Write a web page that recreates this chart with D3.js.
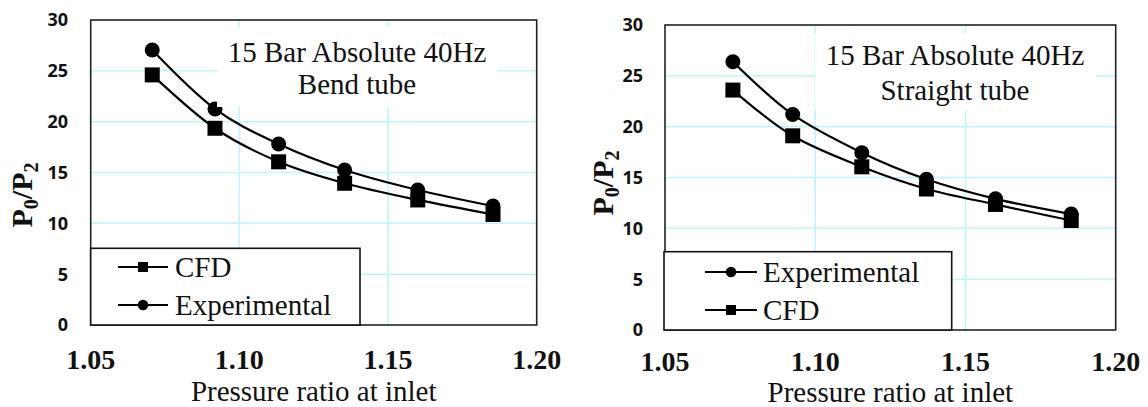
<!DOCTYPE html>
<html><head><meta charset="utf-8">
<script src="https://cdn.jsdelivr.net/npm/d3@7"></script>
<style>html,body{margin:0;padding:0;background:#fff;}</style>
</head><body>
<svg id="c" width="1148" height="407"></svg>
<script>
// ---- data ----
const xTicks = [1.05, 1.10, 1.15, 1.20];
const yTicks = [0, 5, 10, 15, 20, 25, 30];
const bendX = [1.0707, 1.0918, 1.1132, 1.1354, 1.1600, 1.1853];
const bendExp = [27.05, 21.25, 17.8, 15.25, 13.28, 11.7];
const bendCFD = [24.6, 19.35, 16.05, 13.94, 12.3, 10.87];
const straightX = [1.0726, 1.0925, 1.1155, 1.1370, 1.1600, 1.1852];
const straightExp = [26.39, 21.2, 17.44, 14.82, 12.9, 11.4];
const straightCFD = [23.6, 19.1, 16.05, 13.87, 12.35, 10.77];
const annBend = ["15 Bar Absolute 40Hz", "Bend tube"];
const annStraight = ["15 Bar Absolute 40Hz", "Straight tube"];
const xTitle = "Pressure ratio at inlet";

const svg = d3.select("#c");
const serif = "'Liberation Serif','Times New Roman',serif";
const sans = "'Open Sans',Lato,sans-serif";
const gridCol = "#bdf6f6";

const panels = [
  {x0: 90.7, x1: 536.7, y0: 20, y1: 325, xs: bendX, exp: bendExp, cfd: bendCFD, ann: annBend,
   annRect: [217, 27, 498, 107], annCx: 357, annY: [62, 94],
   tickRight: 68, tickBase: 369, titleBase: 401, yTitleX: 32, yTitleY: 195,
   leg: [90.7, 248.3, 360, 325], legLine: [118, 168], legTextX: 175,
   legItems: [{name: "CFD", m: "sq", y: 267}, {name: "Experimental", m: "ci", y: 305}]},
  {x0: 665, x1: 1115.7, y0: 25, y1: 330, xs: straightX, exp: straightExp, cfd: straightCFD, ann: annStraight,
   annRect: [815, 33, 1096, 110], annCx: 955, annY: [65, 100],
   tickRight: 643, tickBase: 371, titleBase: 402, yTitleX: 613, yTitleY: 183,
   leg: [664, 251.7, 951.7, 330], legLine: [705, 757], legTextX: 763,
   legItems: [{name: "Experimental", m: "ci", y: 272}, {name: "CFD", m: "sq", y: 310}]}
];

panels.forEach(p => {
  const g = svg.append("g");
  const x = d3.scaleLinear().domain([1.05, 1.20]).range([p.x0, p.x1]);
  const y = d3.scaleLinear().domain([0, 30]).range([p.y1, p.y0]);

  // gridlines
  g.selectAll(".hg").data(yTicks.slice(1, -1)).enter().append("line")
    .attr("x1", p.x0).attr("x2", p.x1).attr("y1", d => y(d)).attr("y2", d => y(d))
    .attr("stroke", gridCol).attr("stroke-width", 1.5);
  g.selectAll(".vg").data(xTicks.slice(1, -1)).enter().append("line")
    .attr("x1", d => x(d)).attr("x2", d => x(d)).attr("y1", p.y0).attr("y2", p.y1)
    .attr("stroke", gridCol).attr("stroke-width", 1.5);

  // y tick labels
  g.selectAll(".yt").data(yTicks).enter().append("text")
    .attr("x", p.tickRight).attr("y", d => y(d)).attr("dy", "0.36em")
    .attr("text-anchor", "end").attr("font-family", sans).attr("font-weight", 700)
    .attr("font-size", 18).attr("fill", "#111").text(d => d);
  // x tick labels
  g.selectAll(".xt").data(xTicks).enter().append("text")
    .attr("x", d => x(d)).attr("y", p.tickBase)
    .attr("text-anchor", "middle").attr("font-family", serif).attr("font-weight", "bold")
    .attr("font-size", 28).attr("fill", "#111").text(d => d3.format(".2f")(d));
  // x title
  g.append("text").attr("x", (p.x0 + p.x1) / 2).attr("y", p.titleBase)
    .attr("text-anchor", "middle").attr("font-family", serif).attr("font-size", 29).attr("fill", "#111").text(xTitle);
  // y title
  const yt = g.append("text").attr("transform", `translate(${p.yTitleX},${p.yTitleY}) rotate(-90)`)
    .attr("text-anchor", "middle").attr("font-family", serif).attr("font-weight", "bold").attr("font-size", 30).attr("fill", "#111");
  yt.append("tspan").text("P");
  yt.append("tspan").attr("font-size", 20).attr("dy", 6).text("0");
  yt.append("tspan").attr("dy", -6).text("/P");
  yt.append("tspan").attr("font-size", 20).attr("dy", 6).text("2");

  // series
  const line = d3.line().x(d => x(d[0])).y(d => y(d[1])).curve(d3.curveCardinal.tension(0));
  const cfdPts = p.xs.map((v, i) => [v, p.cfd[i]]);
  const expPts = p.xs.map((v, i) => [v, p.exp[i]]);
  [cfdPts, expPts].forEach(pts => g.append("path").attr("d", line(pts))
    .attr("fill", "none").attr("stroke", "#000").attr("stroke-width", 2.2));
  g.selectAll(".ci").data(expPts).enter().append("circle")
    .attr("cx", d => x(d[0])).attr("cy", d => y(d[1])).attr("r", 7.5).attr("fill", "#000");
  g.selectAll(".sq").data(cfdPts).enter().append("rect")
    .attr("x", d => x(d[0]) - 7.5).attr("y", d => y(d[1]) - 7.5)
    .attr("width", 15).attr("height", 15).attr("fill", "#000");

  // annotation
  const a = p.annRect;
  g.append("rect").attr("x", a[0]).attr("y", a[1]).attr("width", a[2] - a[0]).attr("height", a[3] - a[1]).attr("fill", "#fff");
  g.selectAll(".ann").data(p.ann).enter().append("text")
    .attr("x", p.annCx).attr("y", (d, i) => p.annY[i]).attr("text-anchor", "middle")
    .attr("font-family", serif).attr("font-size", 29).attr("fill", "#111").text(d => d);

  // frame
  g.append("rect").attr("x", p.x0).attr("y", p.y0).attr("width", p.x1 - p.x0).attr("height", p.y1 - p.y0)
    .attr("fill", "none").attr("stroke", "#222").attr("stroke-width", 1.6);

  // legend
  const L = p.leg;
  g.append("rect").attr("x", L[0]).attr("y", L[1]).attr("width", L[2] - L[0]).attr("height", L[3] - L[1])
    .attr("fill", "#fff").attr("stroke", "#111").attr("stroke-width", 1.6);
  p.legItems.forEach(it => {
    g.append("line").attr("x1", p.legLine[0]).attr("x2", p.legLine[1]).attr("y1", it.y).attr("y2", it.y)
      .attr("stroke", "#000").attr("stroke-width", 2);
    const mx = (p.legLine[0] + p.legLine[1]) / 2;
    if (it.m === "ci") g.append("circle").attr("cx", mx).attr("cy", it.y).attr("r", 5.3).attr("fill", "#000");
    else g.append("rect").attr("x", mx - 5).attr("y", it.y - 5).attr("width", 10).attr("height", 10).attr("fill", "#000");
    g.append("text").attr("x", p.legTextX).attr("y", it.y + 10).attr("font-family", serif)
      .attr("font-size", 29).attr("fill", "#111").text(it.name);
  });
});
</script>
</body></html>
